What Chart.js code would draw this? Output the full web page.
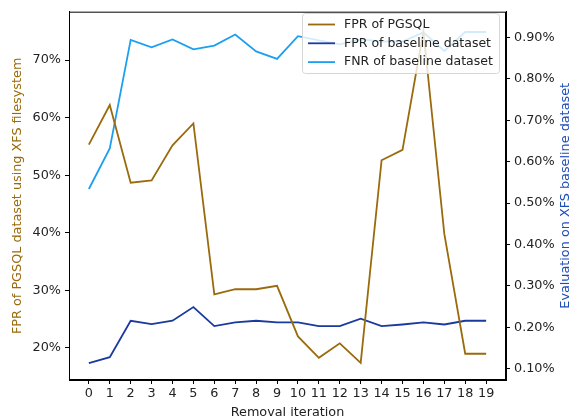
<!DOCTYPE html>
<html>
<head>
<meta charset="utf-8">
<script src="https://cdn.jsdelivr.net/npm/chart.js@4/dist/chart.umd.min.js"></script>
<style>
  html, body { margin: 0; padding: 0; background: #fff; }
  #wrap { width: 577px; height: 420px; }
</style>
</head>
<body>
<div id="wrap"><canvas id="c" width="577" height="420"></canvas></div>
<script>
const iterations = [0,1,2,3,4,5,6,7,8,9,10,11,12,13,14,15,16,17,18,19];
// left axis, percent
const fprPgsql = [55.3,62.2,48.7,49.1,55.2,59.0,29.3,30.2,30.2,30.8,22.0,18.3,20.8,17.4,52.6,54.4,75.0,39.8,19.0,19.0];
// right axis, percent
const fprBaseline = [0.114,0.128,0.216,0.208,0.216,0.249,0.203,0.212,0.216,0.212,0.212,0.203,0.203,0.221,0.203,0.207,0.212,0.207,0.216,0.216];
const fnrBaseline = [0.534,0.632,0.894,0.876,0.895,0.871,0.880,0.907,0.866,0.848,0.903,0.893,0.883,0.895,0.890,0.890,0.912,0.867,0.913,0.913];
const leftTicks = [20,30,40,50,60,70];
const rightTicks = [0.1,0.2,0.3,0.4,0.5,0.6,0.7,0.8,0.9];
const rightTitle = 'Evaluation on XFS baseline dataset';

const FONT = "'DejaVu Sans', sans-serif";
const FS = 12.8;
const pts = arr => arr.map((v, i) => ({ x: iterations[i], y: v }));

const frame = {
  id: 'frame',
  afterDatasetsDraw(chart) {
    const { ctx, chartArea: a } = chart;
    ctx.save();
    ctx.strokeStyle = '#000';
    ctx.lineWidth = 1;
    ctx.strokeRect(a.left + 0.5, a.top + 0.5, a.right - a.left - 1, a.bottom - a.top - 1);
    // right axis title, reading bottom to top like matplotlib
    ctx.translate(566, (a.top + a.bottom) / 2);
    ctx.rotate(-Math.PI / 2);
    ctx.font = FS + 'px ' + FONT;
    ctx.fillStyle = '#1f4db8';
    ctx.textAlign = 'center';
    ctx.textBaseline = 'middle';
    ctx.fillText(rightTitle, 0, 0);
    ctx.restore();
  }
};

const boxLegend = {
  id: 'boxLegend',
  afterDraw(chart) {
    const { ctx } = chart;
    const x = 302, y = 13, w = 197, h = 60;
    ctx.save();
    ctx.fillStyle = 'rgba(255,255,255,0.8)';
    ctx.strokeStyle = '#d6d6d6';
    ctx.lineWidth = 1;
    ctx.beginPath();
    ctx.roundRect(x + 0.5, y + 0.5, w, h, 3);
    ctx.fill();
    ctx.stroke();
    ctx.font = '12.5px ' + FONT;
    ctx.textBaseline = 'middle';
    chart.data.datasets.forEach((ds, i) => {
      const ry = y + 11.5 + i * 18.8;
      ctx.strokeStyle = ds.borderColor;
      ctx.lineWidth = 1.8;
      ctx.beginPath();
      ctx.moveTo(x + 6, ry);
      ctx.lineTo(x + 33, ry);
      ctx.stroke();
      ctx.fillStyle = '#222';
      ctx.fillText(ds.label, x + 42, ry);
    });
    ctx.restore();
  }
};

new Chart(document.getElementById('c'), {
  type: 'line',
  data: {
    datasets: [
      { label: 'FPR of PGSQL', data: pts(fprPgsql), yAxisID: 'y', borderColor: '#9a6a0c' },
      { label: 'FPR of baseline dataset', data: pts(fprBaseline), yAxisID: 'y1', borderColor: '#1a3a9e' },
      { label: 'FNR of baseline dataset', data: pts(fnrBaseline), yAxisID: 'y1', borderColor: '#1c9ff0' }
    ]
  },
  options: {
    responsive: false,
    animation: false,
    layout: { padding: { top: 7, left: 0, right: 0, bottom: 0 } },
    datasets: { line: { borderWidth: 1.8, pointRadius: 0, tension: 0, fill: false } },
    plugins: { legend: { display: false }, tooltip: { enabled: false } },
    scales: {
      x: {
        type: 'linear', min: -0.95, max: 19.95,
        afterBuildTicks: ax => { ax.ticks = iterations.map(v => ({ value: v })); },
        afterFit: ax => { ax.height = 40; },
        grid: { drawOnChartArea: false, tickLength: 4, color: '#000' },
        border: { color: '#000' },
        ticks: { color: '#222', font: { family: FONT, size: FS }, padding: 2, maxRotation: 0, autoSkip: false },
        title: { display: true, text: 'Removal iteration', color: '#222', font: { family: FONT, size: FS }, padding: { top: 0, bottom: 0 } }
      },
      y: {
        position: 'left', min: 14.44, max: 78.4,
        afterBuildTicks: ax => { ax.ticks = leftTicks.map(v => ({ value: v })); },
        afterFit: ax => { ax.width = 69; },
        grid: { drawOnChartArea: false, tickLength: 4, color: '#000' },
        border: { color: '#000' },
        ticks: { color: '#222', font: { family: FONT, size: FS }, padding: 4, callback: v => v + '%' },
        title: { display: true, text: 'FPR of PGSQL dataset using XFS filesystem', color: '#9a6a0c', font: { family: FONT, size: FS }, padding: { top: 10, bottom: 0 } }
      },
      y1: {
        position: 'right', min: 0.073, max: 0.962,
        afterBuildTicks: ax => { ax.ticks = rightTicks.map(v => ({ value: v })); },
        afterFit: ax => { ax.width = 71; },
        grid: { drawOnChartArea: false, tickLength: 4, color: '#000' },
        border: { color: '#000' },
        ticks: { color: '#222', font: { family: FONT, size: FS }, padding: 4, callback: v => v.toFixed(2) + '%' }
      }
    }
  },
  plugins: [frame, boxLegend]
});
</script>
</body>
</html>
